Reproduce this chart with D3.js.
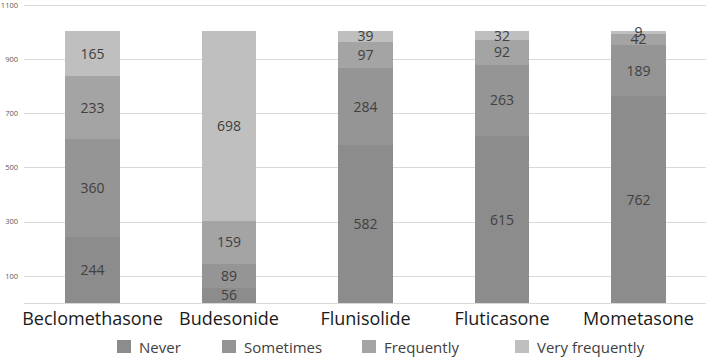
<!DOCTYPE html>
<html>
<head>
<meta charset="utf-8">
<script src="https://cdn.jsdelivr.net/npm/d3@7"></script>
<style>
  body { margin: 0; background: #fff; }
  text { font-family: "Open Sans", "Noto Sans", sans-serif; }
</style>
</head>
<body>
<div id="container"></div>
<script>
let w = 709;
let h = 357;

// data
let drugs = ["Beclomethasone", "Budesonide", "Flunisolide", "Fluticasone", "Mometasone"];
let levels = ["Never", "Sometimes", "Frequently", "Very frequently"];
let never = [244, 56, 582, 615, 762];
let sometimes = [360, 89, 284, 263, 189];
let frequently = [233, 159, 97, 92, 42];
let veryFrequently = [165, 698, 39, 32, 9];
let yTicks = [100, 300, 500, 700, 900, 1100];

let colors = ["#8c8c8c", "#959595", "#a4a4a4", "#bfbfbf"];
let legendX = [117, 222, 362, 515];

let viz = d3.select("#container").append("svg")
  .attr("width", w)
  .attr("height", h)
  .style("background-color", "white");

// build rows for the stack
let rows = drugs.map(function(d, i){
  return {
    drug: d,
    "Never": never[i],
    "Sometimes": sometimes[i],
    "Frequently": frequently[i],
    "Very frequently": veryFrequently[i]
  };
});

let stacked = d3.stack().keys(levels)(rows);

let xScale = d3.scaleBand().domain(drugs).range([24.25, 706.75])
  .paddingInner(0.6).paddingOuter(0.3);
let yScale = d3.scaleLinear().domain([0, 1100]).range([303, 4.7]);

// gridlines
viz.selectAll(".grid").data([0].concat(yTicks)).enter()
  .append("line")
  .attr("class", "grid")
  .attr("x1", 24)
  .attr("x2", 706)
  .attr("y1", d => Math.round(yScale(d)) + 0.5)
  .attr("y2", d => Math.round(yScale(d)) + 0.5)
  .attr("stroke", "#d9d9d9")
  .attr("stroke-width", 1);

// y tick labels
viz.selectAll(".ytick").data(yTicks).enter()
  .append("text")
  .attr("class", "ytick")
  .attr("x", 18)
  .attr("y", d => Math.max(yScale(d), 5.5))
  .attr("dy", "0.35em")
  .attr("text-anchor", "end")
  .attr("font-size", 7.5)
  .attr("fill", "#595959")
  .text(d => d);

// bars
let layers = viz.selectAll(".layer").data(stacked).enter()
  .append("g")
  .attr("class", "layer")
  .attr("fill", (d, i) => colors[i]);

layers.selectAll("rect").data(d => d).enter()
  .append("rect")
  .attr("x", d => xScale(d.data.drug))
  .attr("y", d => yScale(d[1]))
  .attr("width", xScale.bandwidth())
  .attr("height", d => yScale(d[0]) - yScale(d[1]))
  .attr("shape-rendering", "crispEdges");

// value labels
layers.selectAll(".val").data(d => d).enter()
  .append("text")
  .attr("class", "val")
  .attr("x", d => xScale(d.data.drug) + xScale.bandwidth() / 2)
  .attr("y", d => (yScale(d[0]) + yScale(d[1])) / 2)
  .attr("dy", "0.35em")
  .attr("text-anchor", "middle")
  .attr("font-size", 14)
  .attr("fill", "#404040")
  .text(d => d[1] - d[0]);

// category labels
viz.selectAll(".cat").data(drugs).enter()
  .append("text")
  .attr("class", "cat")
  .attr("x", d => xScale(d) + xScale.bandwidth() / 2)
  .attr("y", 325)
  .attr("text-anchor", "middle")
  .attr("font-size", 18)
  .attr("fill", "#1a1a1a")
  .text(d => d);

// legend
let legend = viz.selectAll(".legend").data(levels).enter()
  .append("g")
  .attr("class", "legend")
  .attr("transform", (d, i) => "translate(" + legendX[i] + ",340)");

legend.append("rect")
  .attr("width", 14)
  .attr("height", 13)
  .attr("fill", (d, i) => colors[i]);

legend.append("text")
  .attr("x", 22)
  .attr("y", 12.5)
  .attr("font-size", 15)
  .attr("fill", "#404040")
  .text(d => d);
</script>
</body>
</html>
